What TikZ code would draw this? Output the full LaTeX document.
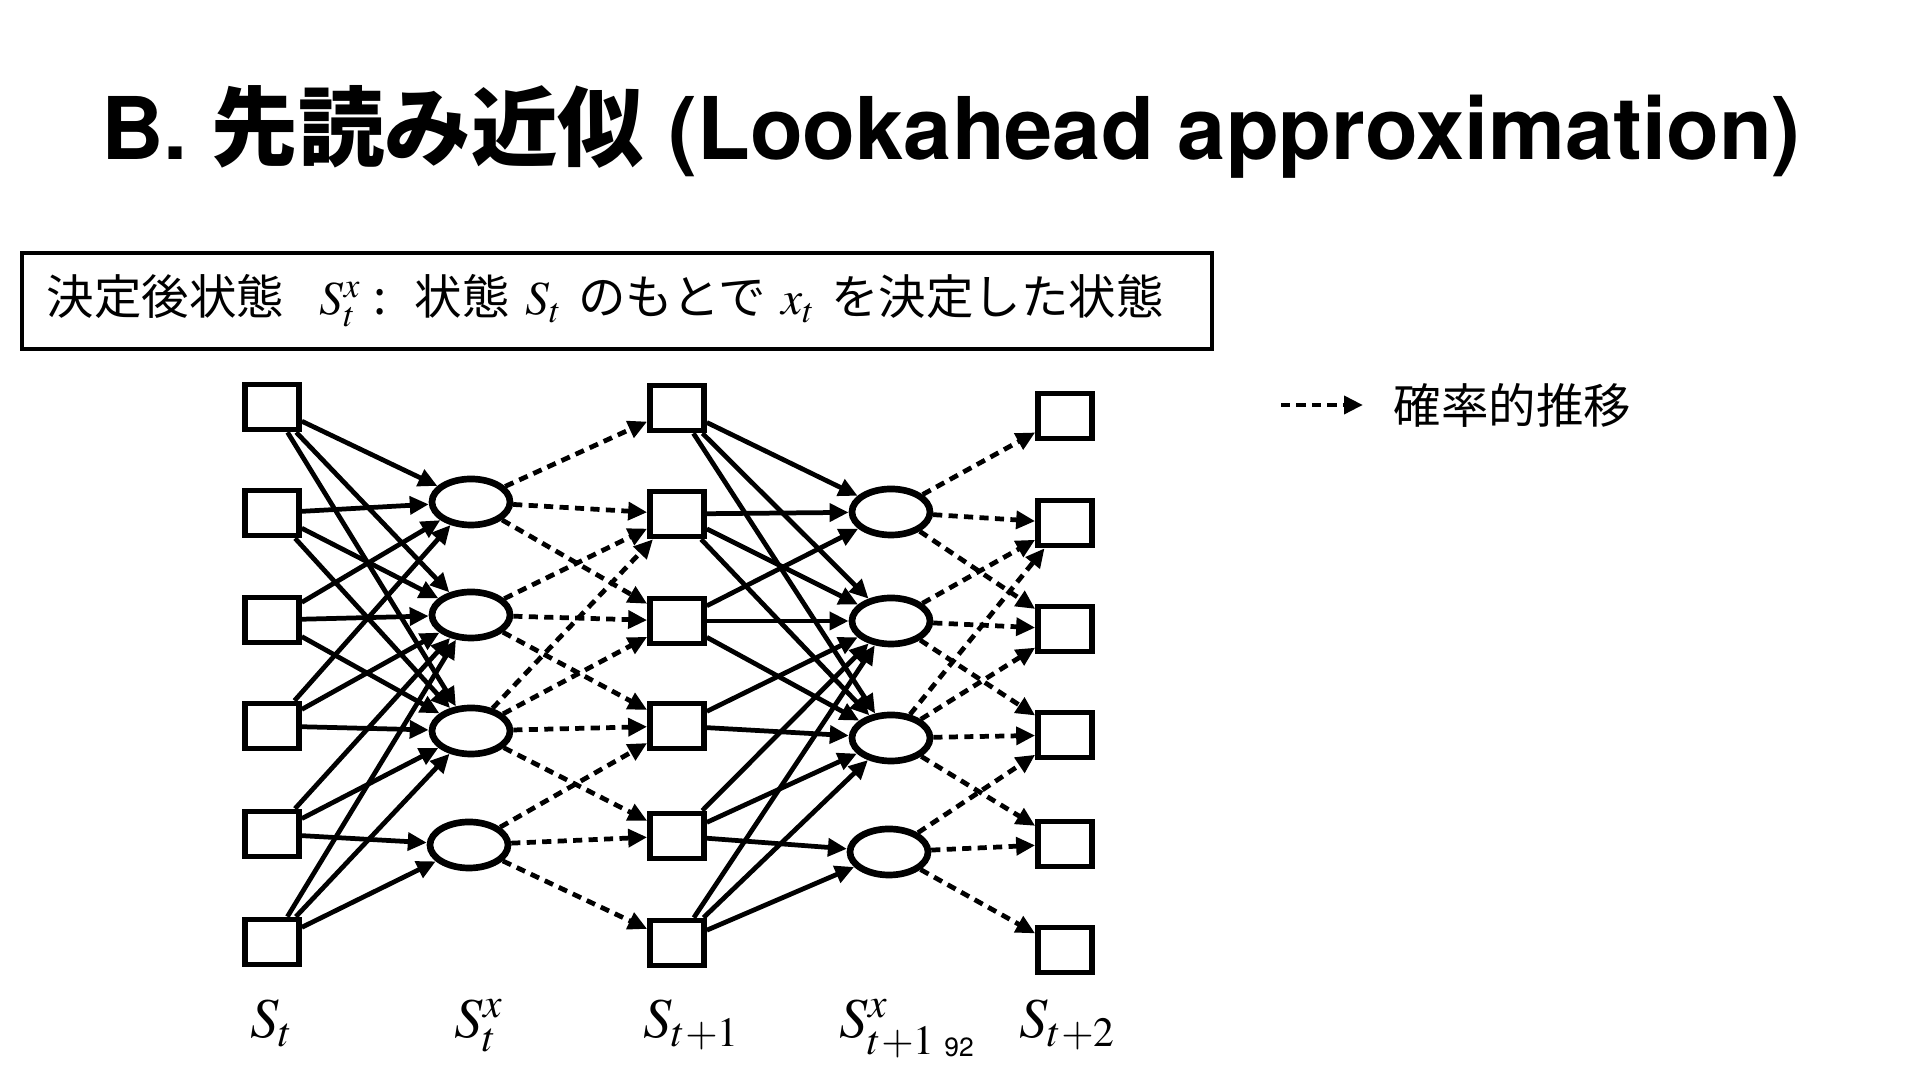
\documentclass[tikz,border=0pt]{standalone}
\usepackage{mathptmx}
\usepackage[no-math]{fontspec}
\setmainfont{Noto Sans CJK JP}
\newfontfamily\headfont{TeX Gyre Heros}
\newfontfamily\jpfont{Noto Sans CJK JP}
\usetikzlibrary{arrows.meta, shapes.geometric}

\begin{document}
\begin{tikzpicture}[x=0.01cm,y=-0.01cm,
	sq/.style={draw, line width=1.6pt, minimum width=0.54cm, minimum height=0.45cm, inner sep=0pt},
	pd/.style={draw, ellipse, line width=1.9pt, minimum width=0.78cm, minimum height=0.46cm, inner sep=0pt},
	act/.style={line width=1.35pt, -{Triangle[length=5.4pt,width=5pt]}},
	rnd/.style={act, dash pattern=on 2.6pt off 1.8pt},
	lab/.style={anchor=base, font=\fontsize{16}{18}\selectfont}]
	\useasboundingbox (0,0) rectangle (1920,1080);
	% title and definition
	\node (title) at (951,132) {\fontsize{24.6}{30}\selectfont\headfont\bfseries B. {\jpfont\bfseries 先読み近似} (Lookahead approximation)};
	\node[draw, line width=1.1pt, minimum width=11.9cm, minimum height=0.96cm, text width=11.4cm, align=left, inner xsep=0.25cm,
		font=\fontsize{13.5}{16}\selectfont] (def) at (617,301)
		{決定後状態\hspace{0.75em}$S_t^x$\hspace{0.25em}:\hspace{0.6em}状態 $S_t$ のもとで $x_t$ を決定した状態};
	% legend
	\coordinate (lgA) at (1281,405);
	\coordinate (lgB) at (1363,405);
	\draw[rnd] (lgA) -- (lgB);
	\node[anchor=west, inner sep=0pt, font=\fontsize{13.5}{16}\selectfont] (lgtext) at (1393,405) {確率的推移};
	% states S_t
	\node[sq] (s1) at (272,407) {};
	\node[sq] (s2) at (272,513) {};
	\node[sq] (s3) at (272,620) {};
	\node[sq] (s4) at (272,726) {};
	\node[sq] (s5) at (272,834) {};
	\node[sq] (s6) at (272,942) {};
	% post-decision states S_t^x
	\node[pd] (a1) at (471,502) {};
	\node[pd] (a2) at (471,615) {};
	\node[pd] (a3) at (471,731) {};
	\node[pd] (a4) at (469,845) {};
	% states S_{t+1}
	\node[sq] (n1) at (677,408) {};
	\node[sq] (n2) at (677,514) {};
	\node[sq] (n3) at (677,621) {};
	\node[sq] (n4) at (677,726) {};
	\node[sq] (n5) at (677,836) {};
	\node[sq] (n6) at (677,943) {};
	% post-decision states S_{t+1}^x
	\node[pd] (b1) at (891,512) {};
	\node[pd] (b2) at (891,621) {};
	\node[pd] (b3) at (891,738) {};
	\node[pd] (b4) at (889,852) {};
	% states S_{t+2}
	\node[sq] (m1) at (1065,416) {};
	\node[sq] (m2) at (1065,523) {};
	\node[sq] (m3) at (1065,629) {};
	\node[sq] (m4) at (1065,735) {};
	\node[sq] (m5) at (1065,844) {};
	\node[sq] (m6) at (1065,950) {};
	% decisions
	\draw[act] (s1) edge (a1) edge (a2) edge (a3);
	\draw[act] (s2) edge (a1) edge (a2) edge (a3);
	\draw[act] (s3) edge (a1) edge (a2) edge (a3);
	\draw[act] (s4) edge (a1) edge (a2) edge (a3);
	\draw[act] (s5) edge (a2) edge (a3) edge (a4);
	\draw[act] (s6) edge (a2) edge (a3) edge (a4);
	\draw[act] (n1) edge (b1) edge (b2) edge (b3);
	\draw[act] (n2) edge (b1) edge (b2) edge (b3);
	\draw[act] (n3) edge (b1) edge (b2) edge (b3);
	\draw[act] (n4) edge (b2) edge (b3);
	\draw[act] (n5) edge (b2) edge (b3) edge (b4);
	\draw[act] (n6) edge (b2) edge (b3) edge (b4);
	% random transitions
	\draw[rnd] (a1) edge (n1) edge (n2) edge (n3);
	\draw[rnd] (a2) edge (n2) edge (n3) edge (n4);
	\draw[rnd] (a3) edge (n2) edge (n3) edge (n4) edge (n5);
	\draw[rnd] (a4) edge (n4) edge (n5) edge (n6);
	\draw[rnd] (b1) edge (m1) edge (m2) edge (m3);
	\draw[rnd] (b2) edge (m2) edge (m3) edge (m4);
	\draw[rnd] (b3) edge (m2) edge (m3) edge (m4) edge (m5);
	\draw[rnd] (b4) edge (m4) edge (m5) edge (m6);
	% column labels
	\node[lab] (ls) at (272,1038) {$S_t$};
	\node[lab] (la) at (479,1038) {$S_t^x$};
	\node[lab] (ln) at (692,1038) {$S_{t{+}1}$};
	\node[lab] (lb) at (888,1038) {$S_{t{+}1}^x$};
	\node[lab] (lm) at (1068,1038) {$S_{t{+}2}$};
	\node (pgno) at (959,1047) {\fontsize{7.5}{8}\selectfont\headfont 92};
\end{tikzpicture}
\end{document}
